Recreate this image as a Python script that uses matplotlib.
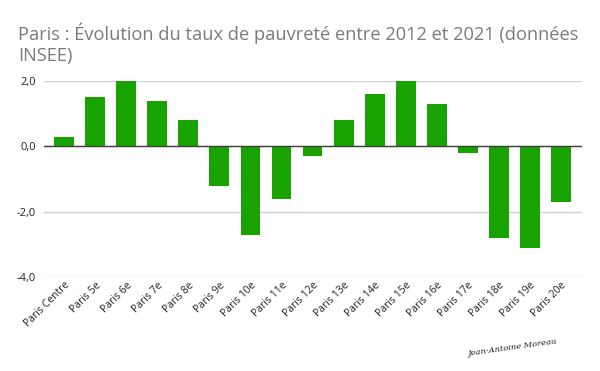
import matplotlib
matplotlib.use('Agg')
import matplotlib.pyplot as plt
from matplotlib.ticker import FuncFormatter

arrondissements = ['Paris Centre', 'Paris 5e', 'Paris 6e', 'Paris 7e', 'Paris 8e', 'Paris 9e',
                   'Paris 10e', 'Paris 11e', 'Paris 12e', 'Paris 13e', 'Paris 14e', 'Paris 15e',
                   'Paris 16e', 'Paris 17e', 'Paris 18e', 'Paris 19e', 'Paris 20e']
evolution = [0.3, 1.5, 2.0, 1.4, 0.8, -1.2, -2.7, -1.6, -0.3, 0.8, 1.6, 2.0, 1.3, -0.2, -2.8, -3.1, -1.7]
y_ticks = [-4.0, -2.0, 0.0, 2.0]

plt.rcParams['font.family'] = ['Open Sans', 'DejaVu Sans']

fig = plt.figure(figsize=(6, 3.71), dpi=100)
ax = fig.add_axes([44/600, 1 - 277/371, (582 - 44)/600, (277 - 81)/371])

x = range(len(arrondissements))
ax.bar(x, evolution, width=0.64, color='#18a300', zorder=3)

ax.set_xlim(-0.65, 16.68)
ax.set_ylim(-4, 2)
ax.set_yticks(y_ticks)
ax.yaxis.set_major_formatter(FuncFormatter(lambda v, p: f'{v:.1f}'.replace('.', ',')))
ax.grid(axis='y', color='#d0d0d0', linewidth=1, zorder=0)
ax.axhline(0, color='#404040', linewidth=1, zorder=4)
for s in ax.spines.values():
    s.set_visible(False)
ax.tick_params(axis='y', length=0, labelsize=8, pad=6, labelcolor='#222222')
ax.tick_params(axis='x', length=0, labelsize=7.5, pad=2, labelcolor='#222222')
ax.set_xticks(list(x))
ax.set_xticklabels(arrondissements, rotation=45, ha='right', rotation_mode='anchor')

t1 = fig.text(18/600, 1 - 33/371, 'Paris : Évolution du taux de pauvreté entre 2012 et 2021 (données',
              fontsize=12, color='#7a7a7a', va='center', ha='left')
fig.text(18/600, 1 - 56/371, 'INSEE)', fontsize=12, color='#7a7a7a', va='center', ha='left')

# ajuster la taille du titre pour tenir dans ~560 px
fig.canvas.draw()
w = t1.get_window_extent().width
size = 12 * 560 / w
t1.set_fontsize(size)
fig.texts[1].set_fontsize(size)

fig.text(512/600, 1 - 348/371, 'Jean-Antoine Moreau', fontsize=6, style='italic',
         family='DejaVu Serif', rotation=8, ha='center', va='center', color='#222222')

fig.savefig('out.png', dpi=100)
